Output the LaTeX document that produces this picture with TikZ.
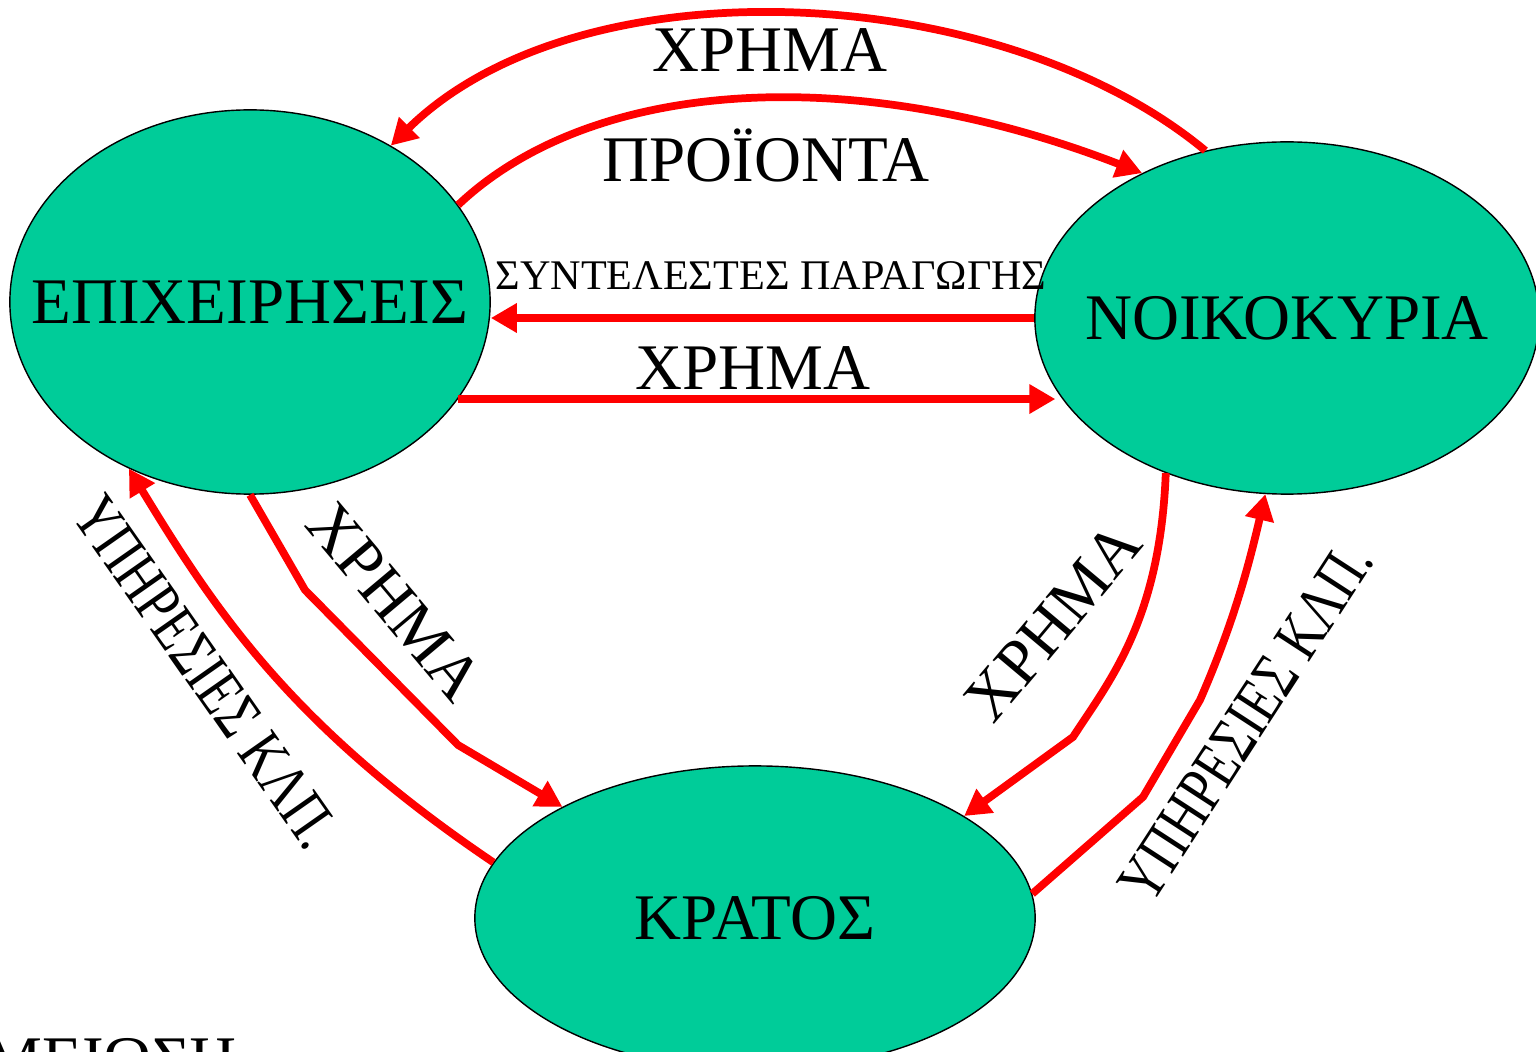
\documentclass[tikz,border=0pt]{standalone}
\usepackage{fontspec}
\setmainfont{Liberation Serif}
\usetikzlibrary{shapes.geometric, arrows.meta}

\definecolor{sectorgreen}{RGB}{0,204,153}

\tikzset{
    sector/.style={draw, shape=ellipse, fill=sectorgreen, inner sep=0},
    flow/.style={draw=red, line width=2.2pt, -{Triangle[length=0.26cm, width=0.28cm]}}
}

\begin{document}
\begin{tikzpicture}[x=0.01cm, y=-0.01cm, font=\fontsize{18.5}{22}\selectfont]

    \useasboundingbox (0, 0) rectangle (1536, 1052);
    \clip (0, 0) rectangle (1536, 1052);

    % Sectors
    \node[sector, minimum width=4.8cm, minimum height=3.84cm,
    label=center: {ΕΠΙΧΕΙΡΗΣΕΙΣ}] (E) at (250, 302) {};
    \node[sector, minimum width=5.04cm, minimum height=3.52cm,
    label=center: {ΝΟΙΚΟΚΥΡΙΑ}] (N) at (1287, 318) {};
    \node[sector, minimum width=5.6cm, minimum height=3.04cm,
    label=center: {ΚΡΑΤΟΣ}] (K) at (755, 918) {};

    % Firms and households
    \draw[flow] (N.116) .. controls (1000, -20) and (580, -40) .. (E.48);
    \draw[flow] (E.25) .. controls (590, 80) and (850, 60) .. (N.135);
    \draw[flow] (N.west) -- (N.west -| E.east);
    \draw[flow] (E.-25) -- (E.-25 -| N.197);

    \node[anchor=base] (money1) at (770, 72) {ΧΡΗΜΑ};
    \node[anchor=base] (goods) at (766, 182) {ΠΡΟΪΟΝΤΑ};
    \node[anchor=base, font=\fontsize{12}{14}\selectfont] (factors) at (771, 290) {ΣΥΝΤΕΛΕΣΤΕΣ ΠΑΡΑΓΩΓΗΣ};
    \node[anchor=base] (money2) at (753, 390) {ΧΡΗΜΑ};

    % State
    \draw[flow] (E.south) -- (305, 590) -- (458, 745) -- (K.150);
    \draw[flow] (K.168) .. controls (290, 725) and (215, 610) .. (E.234);
    \draw[flow] (N.232) .. controls (1160, 620) and (1110, 680) .. (1073, 737) -- (K.26);
    \draw[flow] (K.5) -- (1143, 797) -- (1200, 700) .. controls (1235, 620) and (1250, 560) .. (N.263);

    \node[rotate=-50] (money3) at (395, 602) {ΧΡΗΜΑ};
    \node[rotate=-55, xscale=0.78] (services1) at (206, 672) {ΥΠΗΡΕΣΙΕΣ ΚΛΠ.};
    \node[rotate=50] (money4) at (1053, 622) {ΧΡΗΜΑ};
    \node[rotate=57, xscale=0.78] (services2) at (1246, 722) {ΥΠΗΡΕΣΙΕΣ ΚΛΠ.};

    \node[anchor=base west] (note) at (-28, 1081) {ΜΕΙΩΣΗ};

\end{tikzpicture}
\end{document}
